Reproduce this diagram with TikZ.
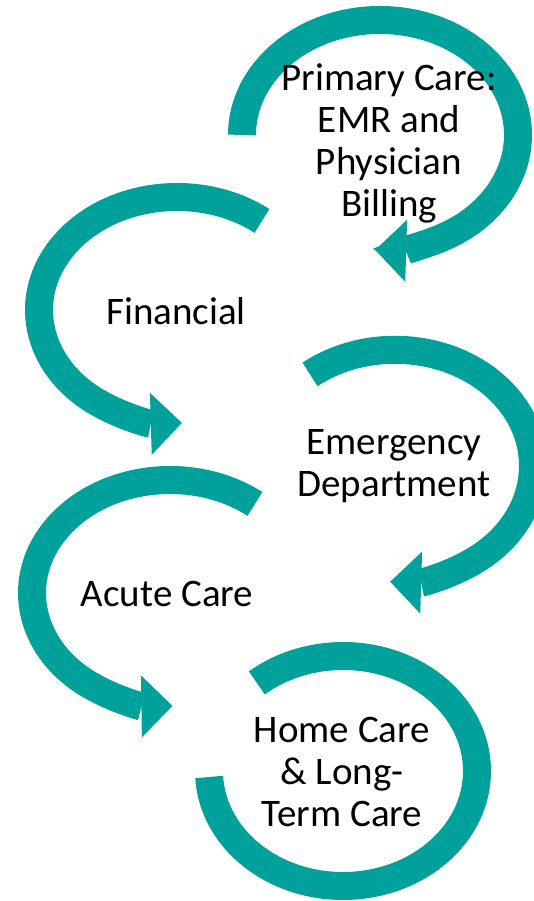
\documentclass[tikz,border=0pt]{standalone}
\usepackage{fontspec}
\setmainfont{Carlito}
\usetikzlibrary{arrows.meta}
\definecolor{tealarc}{RGB}{0,161,154}
\begin{document}
\begin{tikzpicture}[x=1pt,y=1pt,
    cyclearc/.style ={draw=tealarc, line width=28pt},
    cyclehead/.style={-{Triangle[length=31pt,width=62pt,line width=0pt]}},
    stage/.style ={font=\fontsize{39}{42}\selectfont, align=center, anchor=base, inner sep=0pt}]
   \useasboundingbox (0,0) rectangle (533,901);
   % centres of the arcs
   \coordinate (c1) at (380,766);
   \coordinate (c2) at (177,591);
   \coordinate (c3) at (395,436);
   \coordinate (c4) at (170,308);
   \coordinate (c5) at (343,130);
   % arcs
   \draw[cyclearc, cyclehead] (c1) ++(180:138 and 114) arc[start angle=180, end angle=-92, x radius=138, y radius=115];
   \draw[cyclearc, cyclehead] (c2) ++(52:138 and 113) arc[start angle=52, end angle=272, x radius=138, y radius=113];
   \draw[cyclearc, cyclehead] (c3) ++(128:138 and 115) arc[start angle=128, end angle=-92, x radius=138, y radius=116];
   \draw[cyclearc, cyclehead] (c4) ++(52:138 and 113) arc[start angle=52, end angle=271, x radius=138, y radius=113];
   \draw[cyclearc] (c5) ++(-177:134 and 115) arc[start angle=-177, end angle=130, x radius=134, y radius=115];
   % labels (base = last line)
   \node[stage] (primary)   at (389,684.5) {Primary Care:\\EMR and\\Physician\\Billing};
   \node[stage] (financial) at (176,576)   {Financial};
   \node[stage] (emergency) at (394,404)   {Emergency\\Department};
   \node[stage] (acute)     at (167,294)   {Acute Care};
   \node[stage] (home)      at (342,74)    {Home Care\\\& Long-\\Term Care};
 \end{tikzpicture}
\end{document}
